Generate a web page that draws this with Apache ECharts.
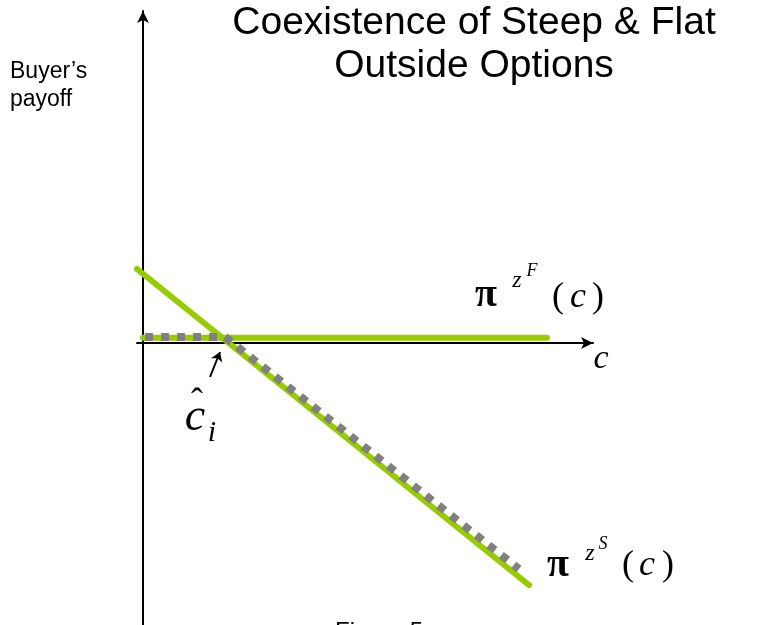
<!DOCTYPE html>
<html>
<head>
<meta charset="UTF-8">
<title>Coexistence of Steep &amp; Flat Outside Options</title>
<script src="https://cdn.jsdelivr.net/npm/echarts@6/dist/echarts.min.js"></script>
<style>
html, body { margin: 0; padding: 0; background: #fff; }
#chart { width: 769px; height: 625px; }
</style>
</head>
<body>
<div id="chart"></div>
<script>
// payoff lines in axis units (x = cost c, y = buyer's payoff)
var steepLine = [[-0.15, 1.85], [9.65, -6.05]];
var flatLine = [[0, 0.13], [10.1, 0.13]];
var outsideOption = [[0.05, 0.15], [2.05, 0.15], [9.4, -5.65]];
var hatArrow = [[1.675, -0.85], [1.925, -0.225]];
var xRange = [-0.15, 11.25];
var yRange = [-7.05, 8.3];
var titleLines = ['Coexistence of Steep & Flat', 'Outside Options'];
var yLabelLines = ['Buyer\u2019s', 'payoff'];

var SANS = 'Liberation Sans, Arial, sans-serif';
var SERIF = 'Liberation Serif, Times New Roman, serif';
var GREEN = '#99cc00';

function txt(x, y, s, font, align) {
  return {
    type: 'text', x: x, y: y, silent: true,
    style: { text: s, font: font, fill: '#000', align: align || 'left', verticalAlign: 'middle' }
  };
}

var axisStyle = {
  show: true, onZero: true,
  symbol: ['none', 'arrow'], symbolSize: [9, 12],
  lineStyle: { color: '#000', width: 2 }
};

var chart = echarts.init(document.getElementById('chart'), null, { renderer: 'canvas' });
chart.setOption({
  animation: false,
  grid: { left: 137, right: 176, top: 11, bottom: 0 },
  xAxis: {
    type: 'value', min: xRange[0], max: xRange[1],
    axisLine: axisStyle, axisTick: { show: false }, axisLabel: { show: false }, splitLine: { show: false }
  },
  yAxis: {
    type: 'value', min: yRange[0], max: yRange[1],
    axisLine: axisStyle, axisTick: { show: false }, axisLabel: { show: false }, splitLine: { show: false }
  },
  series: [
    { type: 'line', data: steepLine, symbol: 'none', z: 2,
      lineStyle: { color: GREEN, width: 6, cap: 'round' } },
    { type: 'line', data: flatLine, symbol: 'none', z: 2,
      lineStyle: { color: GREEN, width: 6, cap: 'round' } },
    { type: 'line', data: outsideOption, symbol: 'none', z: 3,
      lineStyle: { color: '#808080', width: 8, type: [8, 8], cap: 'butt', join: 'miter' } },
    { type: 'lines', coordinateSystem: 'cartesian2d', z: 4,
      symbol: ['none', 'arrow'], symbolSize: 9,
      lineStyle: { color: '#000', width: 2, opacity: 1 },
      data: [{ coords: hatArrow }] }
  ],
  graphic: [
    txt(474, 23, titleLines[0], '39px ' + SANS, 'center'),
    txt(474, 66, titleLines[1], '39px ' + SANS, 'center'),
    txt(10, 72, yLabelLines[0], '23px ' + SANS),
    txt(10, 100, yLabelLines[1], '23px ' + SANS),
    txt(335, 632, 'Figure 5', '24px ' + SANS),
    // axis label c
    txt(601, 359, 'c', 'italic 34px ' + SERIF, 'center'),
    // c-hat sub i
    txt(197, 404, '\u02c6', '36px ' + SERIF, 'center'),
    txt(195, 418, 'c', 'italic 46px ' + SERIF, 'center'),
    txt(212, 433, 'i', 'italic 30px ' + SERIF, 'center'),
    // pi^{z^F}(c)
    txt(486, 296, '\u03c0', 'bold 40px ' + SERIF, 'center'),
    txt(517, 281, 'z', 'italic 24px ' + SERIF, 'center'),
    txt(532, 271, 'F', 'italic 18px ' + SERIF, 'center'),
    txt(552, 298, '(', '36px ' + SERIF),
    txt(578, 298, 'c', 'italic 36px ' + SERIF, 'center'),
    txt(604, 298, ')', '36px ' + SERIF, 'right'),
    // pi^{z^S}(c)
    txt(558, 566, '\u03c0', 'bold 40px ' + SERIF, 'center'),
    txt(590, 554, 'z', 'italic 24px ' + SERIF, 'center'),
    txt(603, 544, 'S', 'italic 18px ' + SERIF, 'center'),
    txt(622, 566, '(', '36px ' + SERIF),
    txt(647, 566, 'c', 'italic 36px ' + SERIF, 'center'),
    txt(674, 566, ')', '36px ' + SERIF, 'right')
  ]
});
</script>
</body>
</html>
